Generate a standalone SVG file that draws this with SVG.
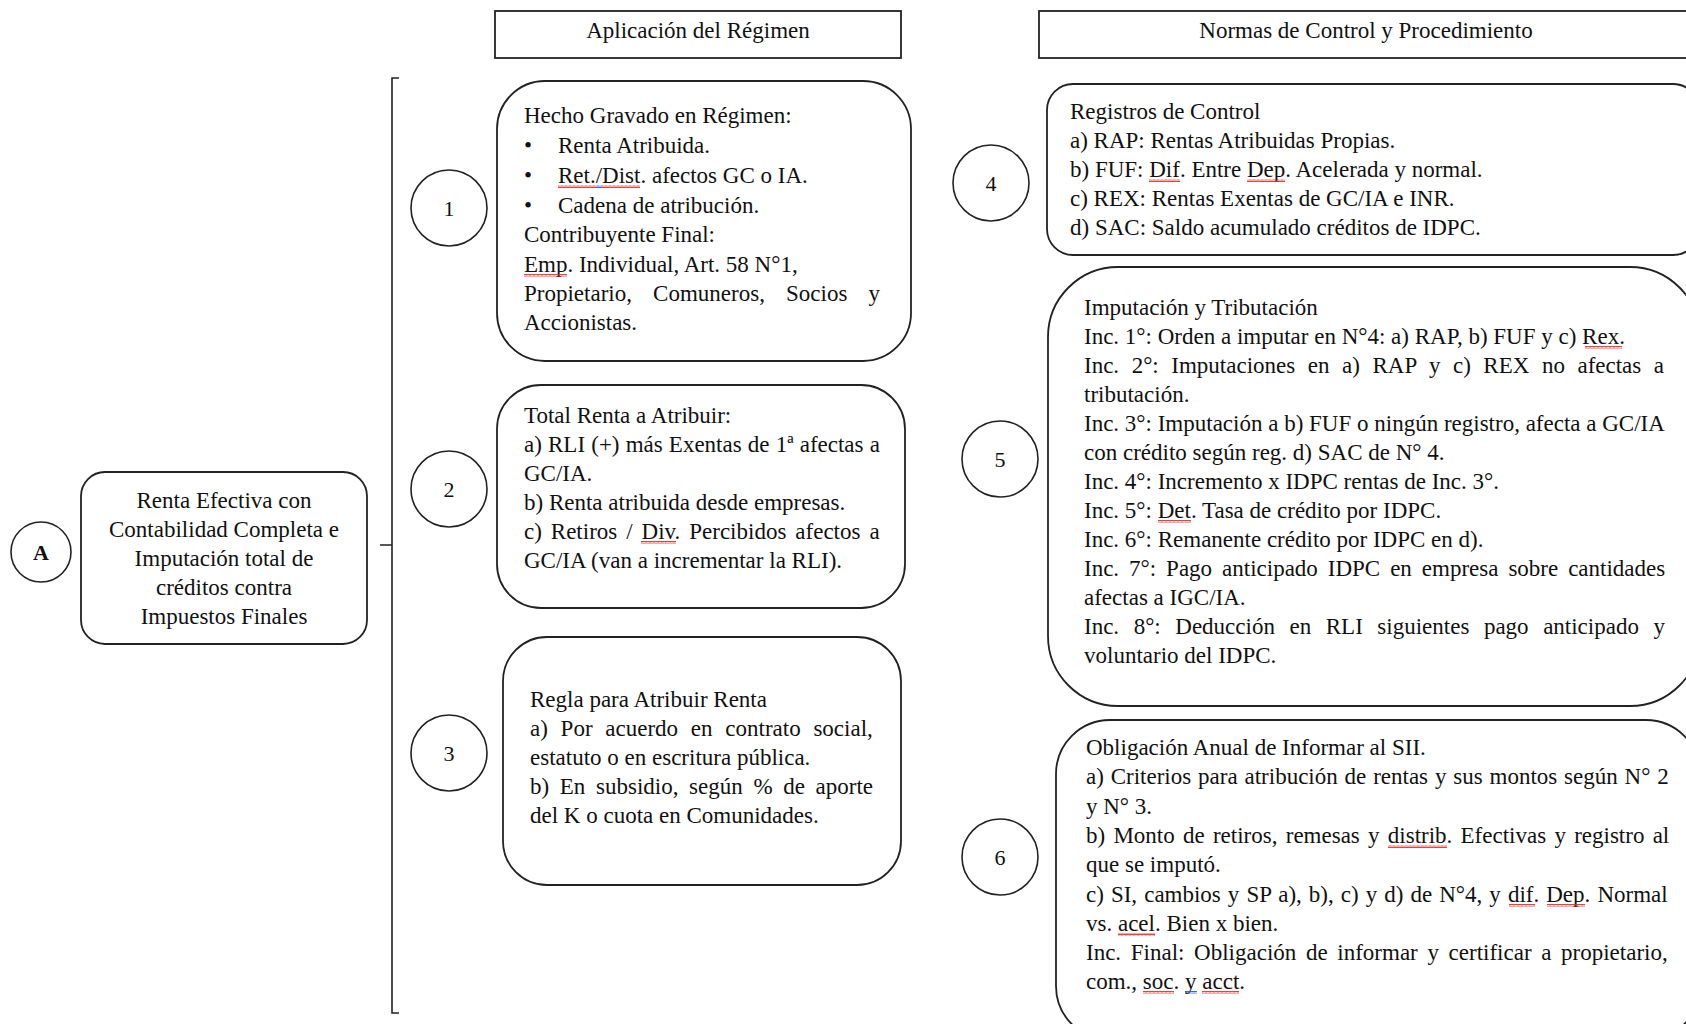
<svg xmlns="http://www.w3.org/2000/svg" width="1686" height="1024" viewBox="0 0 1686 1024">
<defs>
<pattern id="sqr" width="4" height="3" patternUnits="userSpaceOnUse"><path d="M0 2.5 L1 0.5 L2 2.5 L3 0.5 L4 2.5" fill="none" stroke="#e0302a" stroke-width="0.9"/></pattern>
<pattern id="sqb" width="4" height="3" patternUnits="userSpaceOnUse"><path d="M0 2.5 L1 0.5 L2 2.5 L3 0.5 L4 2.5" fill="none" stroke="#3050e0" stroke-width="0.9"/></pattern>
</defs>
<style>
.bx{fill:#fff;stroke:#222;stroke-width:1.8}
.hd{fill:#fff;stroke:#222;stroke-width:1.8}
.ci{fill:#fff;stroke:#222;stroke-width:1.6}
.ln{fill:none;stroke:#222;stroke-width:1.6}
text{font-family:"Liberation Serif","Times New Roman",serif;font-size:23px;fill:#111}
.c{text-anchor:middle}
.num{font-size:22px;text-anchor:middle}
.r{fill:url(#sqr)}
.b{fill:url(#sqb)}
</style>
<rect width="1686" height="1024" fill="#fff"/>
<g id="connectors">
<path class="ln" d="M380 545 H392 M399 78 H392 V1013 H399"/>
</g>
<g id="hdr1"><rect class="hd" x="495" y="11" width="406" height="47"/><text class="c" x="698" y="38">Aplicación del Régimen</text></g>
<g id="hdr2"><rect class="hd" x="1039" y="11" width="660" height="47"/><text class="c" x="1366" y="38">Normas de Control y Procedimiento</text></g>
<g id="nodeA"><circle class="ci" cx="41" cy="552" r="30"/><text class="num" x="41" y="560" font-weight="bold" font-size="21">A</text></g>
<g id="boxA"><rect class="bx" x="81" y="472" width="286" height="172" rx="24"/>
<text class="c" x="224" y="508">Renta Efectiva con</text>
<text class="c" x="224" y="537">Contabilidad Completa e</text>
<text class="c" x="224" y="566">Imputación total de</text>
<text class="c" x="224" y="595">créditos contra</text>
<text class="c" x="224" y="624">Impuestos Finales</text></g>
<g id="node1"><circle class="ci" cx="449" cy="208" r="38"/><text class="num" x="449" y="216">1</text></g>
<g id="box1"><rect class="bx" x="497" y="81" width="414" height="280" rx="48"/>
<text x="524" y="123">Hecho Gravado en Régimen:</text>
<text x="524" y="153">•</text><text x="558" y="153">Renta Atribuida.</text>
<text x="524" y="183">•</text><text x="558" y="183">Ret./Dist. afectos GC o IA.</text>
<text x="524" y="213">•</text><text x="558" y="213">Cadena de atribución.</text>
<text x="524" y="242">Contribuyente Final:</text>
<text x="524" y="272">Emp. Individual, Art. 58 N°1,</text>
<text x="524" y="301" word-spacing="15.4">Propietario, Comuneros, Socios y</text>
<text x="524" y="330">Accionistas.</text>
<rect class="r" x="558" y="185" width="38" height="3"/><rect class="b" x="596" y="185" width="6" height="3"/><rect class="r" x="602" y="185" width="38" height="3"/>
<rect class="r" x="524" y="274" width="43" height="3"/></g>
<g id="node2"><circle class="ci" cx="449" cy="489" r="38"/><text class="num" x="449" y="497">2</text></g>
<g id="box2"><rect class="bx" x="497" y="385" width="408" height="223" rx="44"/>
<text x="524" y="423">Total Renta a Atribuir:</text>
<text x="524" y="452" word-spacing="0.4">a) RLI (+) más Exentas de 1ª afectas a</text>
<text x="524" y="481">GC/IA.</text>
<text x="524" y="510">b) Renta atribuida desde empresas.</text>
<text x="524" y="539" word-spacing="3.2">c) Retiros / Div. Percibidos afectos a</text>
<text x="524" y="568">GC/IA (van a incrementar la RLI).</text>
<rect class="r" x="641" y="541" width="35" height="3"/></g>
<g id="node3"><circle class="ci" cx="449" cy="753" r="38"/><text class="num" x="449" y="761">3</text></g>
<g id="box3"><rect class="bx" x="503" y="637" width="398" height="248" rx="44"/>
<text x="530" y="707">Regla para Atribuir Renta</text>
<text x="530" y="736" word-spacing="7">a) Por acuerdo en contrato social,</text>
<text x="530" y="765">estatuto o en escritura pública.</text>
<text x="530" y="794" word-spacing="4.9">b) En subsidio, según % de aporte</text>
<text x="530" y="823">del K o cuota en Comunidades.</text></g>
<g id="node4"><circle class="ci" cx="991" cy="183" r="38"/><text class="num" x="991" y="191">4</text></g>
<g id="box4"><rect class="bx" x="1047" y="84" width="652" height="171" rx="26"/>
<text x="1070" y="119">Registros de Control</text>
<text x="1070" y="148">a) RAP: Rentas Atribuidas Propias.</text>
<text x="1070" y="177">b) FUF: Dif. Entre Dep. Acelerada y normal.</text>
<text x="1070" y="206">c) REX: Rentas Exentas de GC/IA e INR.</text>
<text x="1070" y="235">d) SAC: Saldo acumulado créditos de IDPC.</text>
<rect class="r" x="1149" y="179" width="31" height="3"/><rect class="r" x="1247" y="179" width="38" height="3"/></g>
<g id="node5"><circle class="ci" cx="1000" cy="459" r="38"/><text class="num" x="1000" y="467">5</text></g>
<g id="box5"><rect class="bx" x="1048" y="267" width="652" height="439" rx="70"/>
<text x="1084" y="315">Imputación y Tributación</text>
<text x="1084" y="344">Inc. 1°: Orden a imputar en N°4: a) RAP, b) FUF y c) Rex.</text>
<text x="1084" y="373" word-spacing="6.8">Inc. 2°: Imputaciones en a) RAP y c) REX no afectas a</text>
<text x="1084" y="402">tributación.</text>
<text x="1084" y="431">Inc. 3°: Imputación a b) FUF o ningún registro, afecta a GC/IA</text>
<text x="1084" y="460">con crédito según reg. d) SAC de N° 4.</text>
<text x="1084" y="489">Inc. 4°: Incremento x IDPC rentas de Inc. 3°.</text>
<text x="1084" y="518">Inc. 5°: Det. Tasa de crédito por IDPC.</text>
<text x="1084" y="547">Inc. 6°: Remanente crédito por IDPC en d).</text>
<text x="1084" y="576" word-spacing="4.2">Inc. 7°: Pago anticipado IDPC en empresa sobre cantidades</text>
<text x="1084" y="605">afectas a IGC/IA.</text>
<text x="1084" y="634" word-spacing="8.8">Inc. 8°: Deducción en RLI siguientes pago anticipado y</text>
<text x="1084" y="663">voluntario del IDPC.</text>
<rect class="r" x="1585" y="346" width="37" height="3"/><rect class="r" x="1158" y="520" width="33" height="3"/></g>
<g id="node6"><circle class="ci" cx="1000" cy="857" r="38"/><text class="num" x="1000" y="865">6</text></g>
<g id="box6"><rect class="bx" x="1056" y="720" width="644" height="320" rx="54"/>
<text x="1086" y="755">Obligación Anual de Informar al SII.</text>
<text x="1086" y="784" word-spacing="1.1">a) Criterios para atribución de rentas y sus montos según N° 2</text>
<text x="1086" y="814">y N° 3.</text>
<text x="1086" y="843" word-spacing="2.5">b) Monto de retiros, remesas y distrib. Efectivas y registro al</text>
<text x="1086" y="872">que se imputó.</text>
<text x="1086" y="902" word-spacing="1.3">c) SI, cambios y SP a), b), c) y d) de N°4, y dif. Dep. Normal</text>
<text x="1086" y="931">vs. acel. Bien x bien.</text>
<text x="1086" y="960" word-spacing="3.9">Inc. Final: Obligación de informar y certificar a propietario,</text>
<text x="1086" y="989">com., soc. y acct.</text>
<rect class="r" x="1388" y="845" width="59" height="3"/>
<rect class="r" x="1509" y="904" width="26" height="3"/><rect class="r" x="1547" y="904" width="38" height="3"/>
<rect class="r" x="1118" y="933" width="37" height="3"/>
<rect class="r" x="1143" y="991" width="31" height="3"/><rect class="b" x="1185" y="991" width="12" height="3"/><rect class="r" x="1202" y="991" width="37" height="3"/></g>
</svg>
